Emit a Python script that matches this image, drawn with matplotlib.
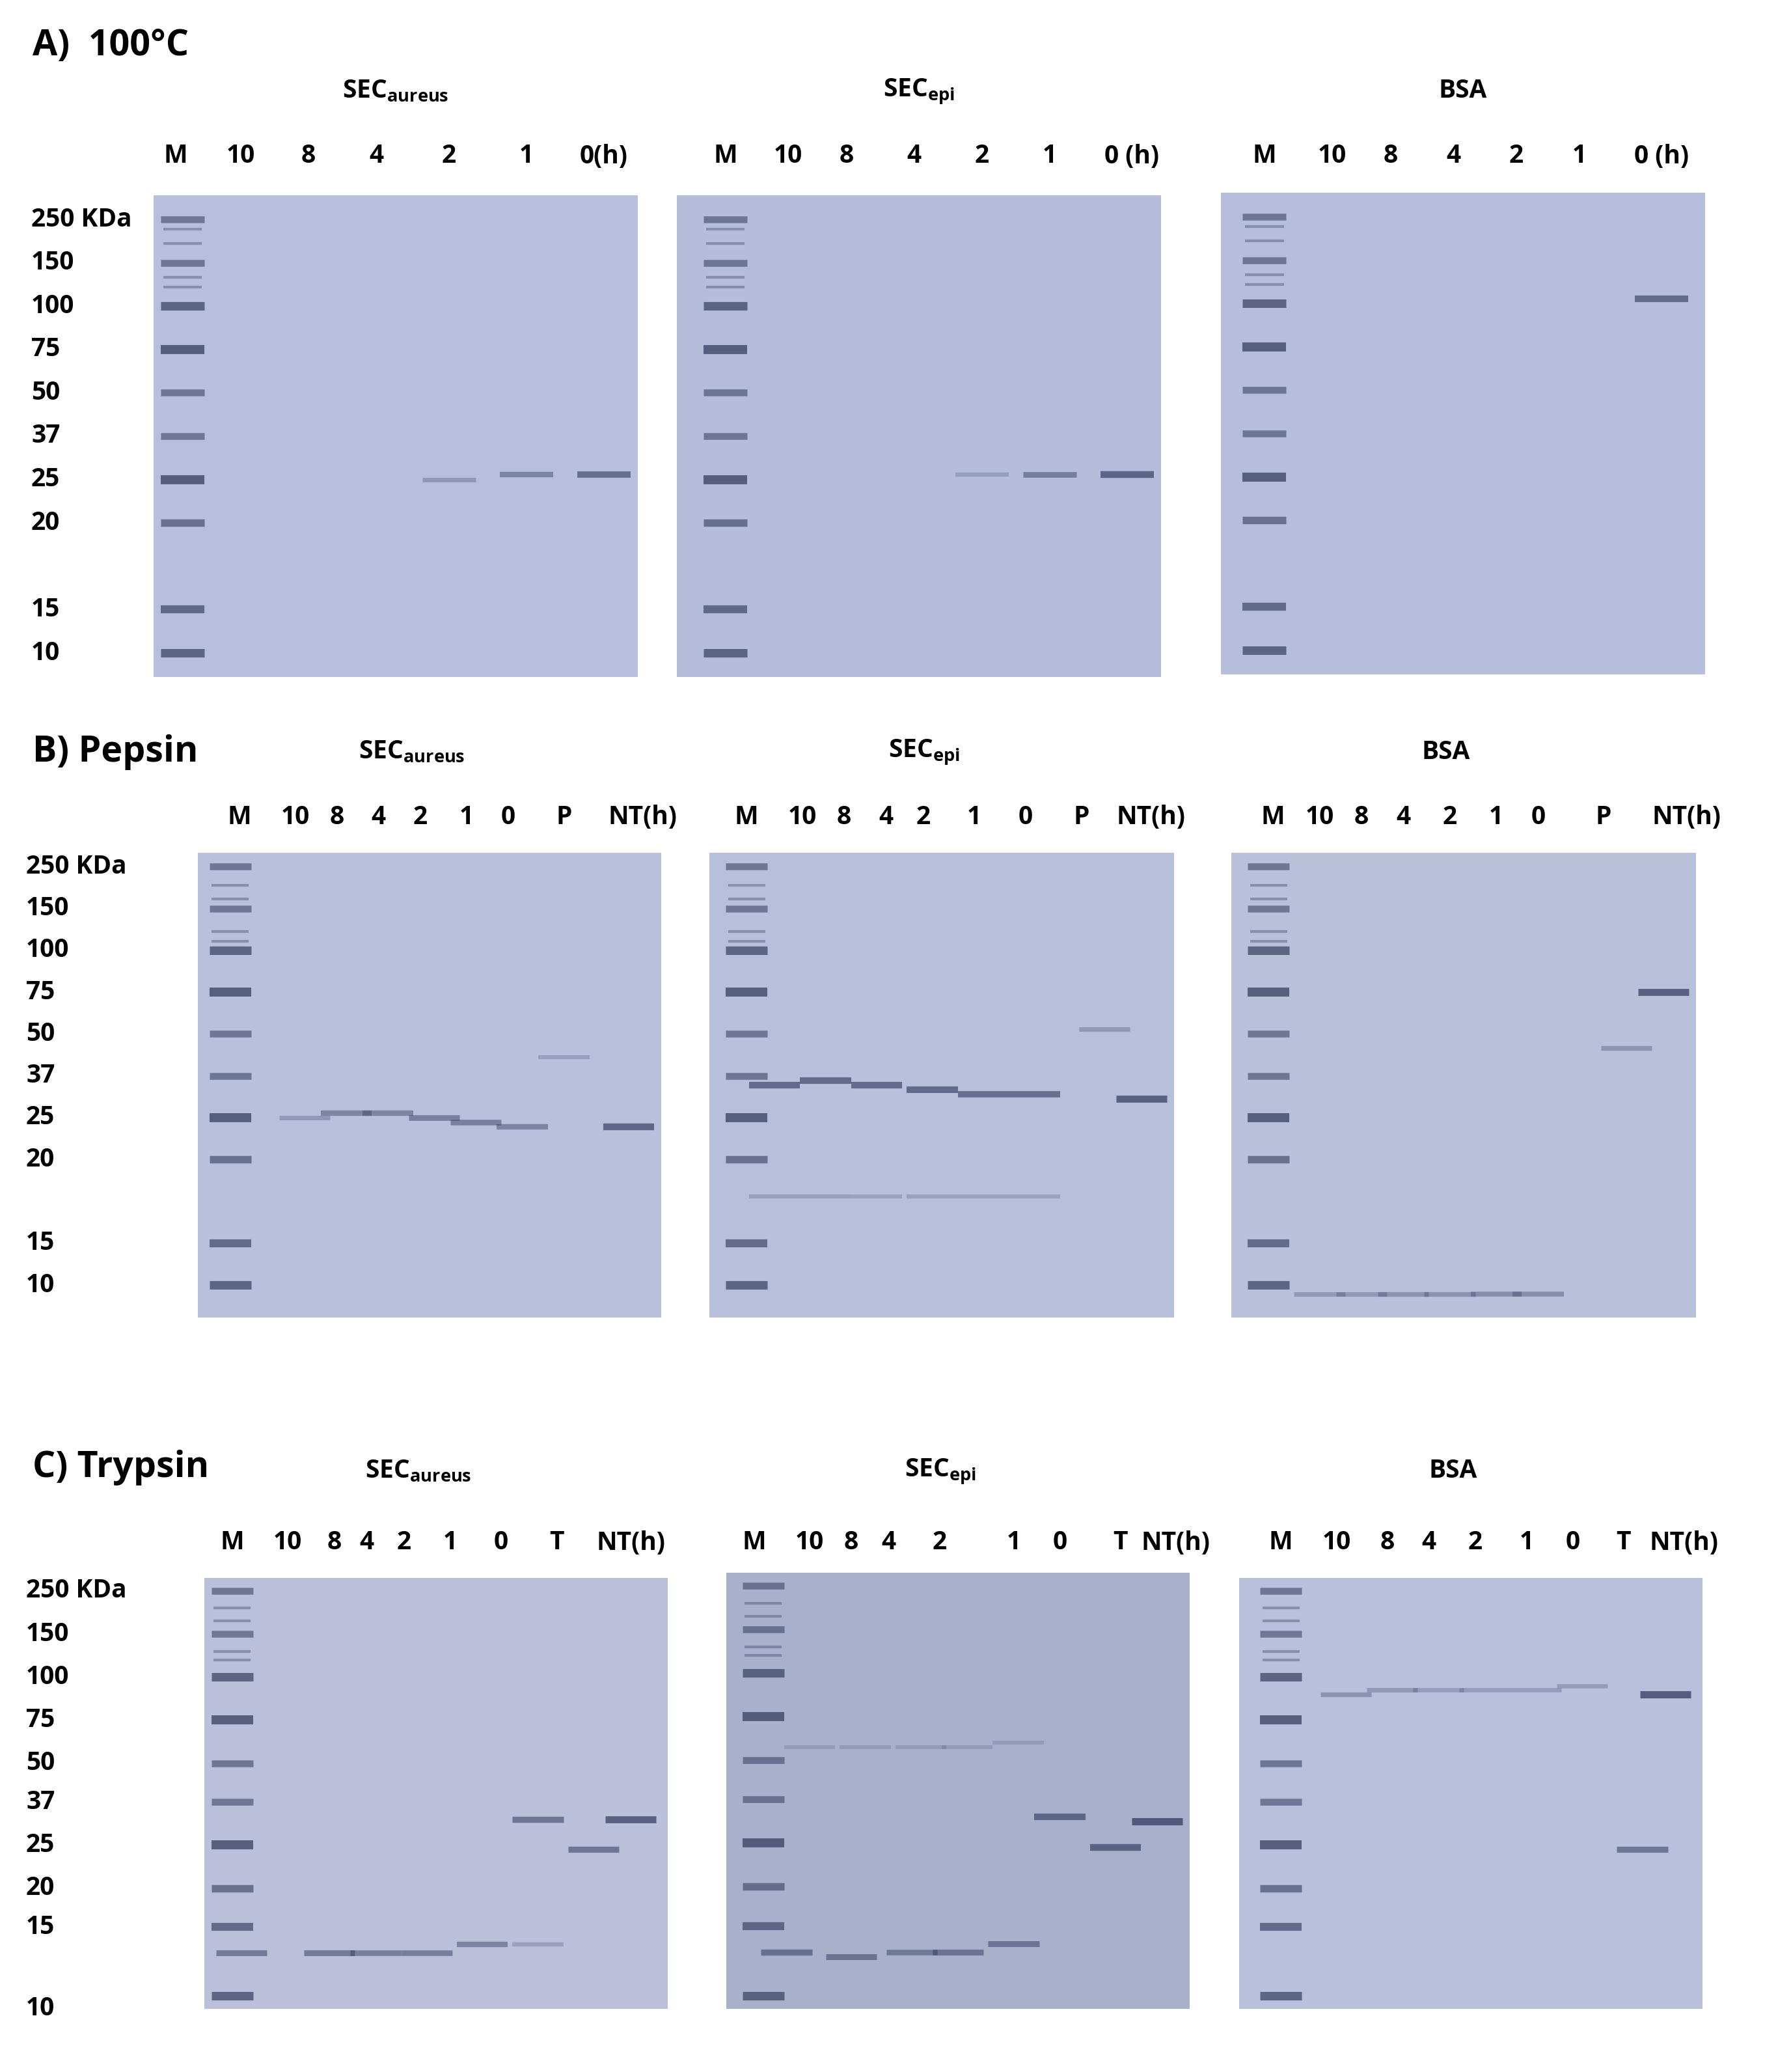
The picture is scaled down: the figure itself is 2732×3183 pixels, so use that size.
import matplotlib
matplotlib.use("Agg")
import matplotlib.pyplot as plt
import numpy as np

plt.rcParams['font.family'] = ['Open Sans', 'DejaVu Sans']

W, H = 2732, 3183
mw_labels = ["250 KDa", "150", "100", "75", "50", "37", "25", "20", "15", "10"]
# vertical position of each marker label, as a fraction of the gel height, per row
mw_frac = {
    "A": [0.05, 0.14, 0.23, 0.32, 0.41, 0.50, 0.59, 0.68, 0.86, 0.95],
    "B": [0.03, 0.12, 0.21, 0.30, 0.39, 0.48, 0.57, 0.66, 0.84, 0.93],
    "C": [0.03, 0.13, 0.23, 0.33, 0.43, 0.52, 0.62, 0.72, 0.81, 1.00],
}
# thick ladder bands (75 and 25 kDa) get more ink
ladder_weight = [0.6, 0.6, 0.9, 1.0, 0.6, 0.6, 1.0, 0.7, 0.8, 0.9]

row_titles = {"A": "A)  100°C", "B": "B) Pepsin", "C": "C) Trypsin"}
gel_titles = ["SEC$_{\\mathregular{aureus}}$", "SEC$_{\\mathregular{epi}}$", "BSA"]

lanes_A = ["M", "10", "8", "4", "2", "1", "0(h)"]
lanes_A2 = ["M", "10", "8", "4", "2", "1", "0 (h)"]
lanes_B = ["M", "10", "8", "4", "2", "1", "0", "P", "NT(h)"]
lanes_C = ["M", "10", "8", "4", "2", "1", "0", "T", "NT(h)"]

# gel rectangles in pixels: left, top, right, bottom
gels = {
    "A": [(236, 300, 980, 1040), (1040, 300, 1784, 1040), (1876, 296, 2620, 1036)],
    "B": [(304, 1310, 1016, 2024), (1090, 1310, 1804, 2024), (1892, 1310, 2606, 2024)],
    "C": [(314, 2424, 1026, 3086), (1116, 2416, 1828, 3086), (1904, 2424, 2616, 3086)],
}
lane_labels = {
    "A": [lanes_A, lanes_A2, lanes_A2],
    "B": [lanes_B, lanes_B, lanes_B],
    "C": [lanes_C, lanes_C, lanes_C],
}
lane_x = {
    "A": [[.046, .18, .32, .46, .61, .77, .93], [.10, .23, .35, .49, .63, .77, .94],
          [.09, .23, .35, .48, .61, .74, .91]],
    "B": [[.09, .21, .30, .39, .48, .58, .67, .79, .96], [.08, .20, .29, .38, .46, .57, .68, .80, .95],
          [.09, .19, .28, .37, .47, .57, .66, .80, .98]],
    "C": [[.06, .18, .28, .35, .43, .53, .64, .76, .92], [.06, .18, .27, .35, .46, .62, .72, .85, .97],
          [.09, .21, .32, .41, .51, .62, .72, .83, .96]],
}
ladder_x = {"A": [.06, .10, .09], "B": [.07, .08, .08], "C": [.06, .08, .09]}
gel_colour = {"A": ["#b7bfdc", "#b5bddb", "#b6bedb"], "B": ["#b9c0dc", "#b8bfda", "#b9c0da"],
              "C": ["#babfda", "#a9b0cc", "#b9c0dc"]}

# sample bands: (x frac, y frac, strength 0..1)
bands = {
    ("A", 0): [(.61, .59, .2), (.77, .58, .4), (.93, .58, .6)],
    ("A", 1): [(.63, .58, .12), (.77, .58, .45), (.93, .58, .7)],
    ("A", 2): [(.91, .22, .65)],
    ("B", 0): [(.23, .57, .2), (.32, .56, .4), (.41, .56, .4), (.51, .57, .45), (.60, .58, .45),
               (.70, .59, .4), (.79, .44, .12), (.93, .59, .7)],
    ("B", 1): [(.14, .50, .65), (.25, .49, .65), (.36, .50, .65), (.48, .51, .65), (.59, .52, .6),
               (.70, .52, .6), (.85, .38, .2), (.93, .53, .75),
               (.14, .74, .12), (.25, .74, .12), (.36, .74, .1), (.48, .74, .1), (.59, .74, .1), (.70, .74, .1)],
    ("B", 2): [(.93, .30, .75), (.85, .42, .25),
               (.19, .95, .2), (.28, .95, .2), (.37, .95, .25), (.47, .95, .25), (.57, .95, .3), (.66, .95, .3)],
    ("C", 0): [(.08, .87, .5), (.27, .87, .5), (.37, .87, .45), (.48, .87, .45), (.60, .85, .4),
               (.72, .85, .12), (.72, .56, .55), (.84, .63, .55), (.92, .56, .75)],
    ("C", 1): [(.13, .87, .55), (.27, .88, .5), (.40, .87, .45), (.50, .87, .5), (.62, .85, .5),
               (.72, .56, .65), (.84, .63, .7), (.93, .57, .8),
               (.18, .40, .05), (.30, .40, .05), (.42, .40, .05), (.52, .40, .05), (.63, .39, .05)],
    ("C", 2): [(.23, .27, .25), (.33, .26, .2), (.43, .26, .15), (.53, .26, .15), (.64, .26, .15), (.74, .25, .15),
               (.92, .27, .8), (.87, .63, .55)],
}

fig = plt.figure(figsize=(W / 100, H / 100), dpi=100)
fig.patch.set_facecolor("white")

row_title_y = {"A": 70, "B": 1155, "C": 2255}
gel_title_y = {"A": 140, "B": 1155, "C": 2260}
lane_label_y = {"A": 240, "B": 1255, "C": 2370}
label_x = {"A": 48, "B": 40, "C": 40}

for row in ["A", "B", "C"]:
    fig.text(50 / W, 1 - row_title_y[row] / H, row_titles[row], fontsize=40, fontweight="bold",
             va="center", ha="left")
    for g, (l, t, r, b) in enumerate(gels[row]):
        ax = fig.add_axes([l / W, 1 - b / H, (r - l) / W, (b - t) / H])
        ax.set_xlim(0, 1)
        ax.set_ylim(1, 0)
        ax.set_facecolor(gel_colour[row][g])
        for s in ax.spines.values():
            s.set_visible(False)
        ax.set_xticks([])
        ax.set_yticks([])
        # ladder
        lx = ladder_x[row][g]
        for yf, wt in zip(mw_frac[row], ladder_weight):
            yy = min(yf, 0.97)
            ax.hlines(yy, lx - 0.045, lx + 0.045, color="#3f4768", lw=4 + 6 * wt, alpha=0.3 + 0.5 * wt)
        for yf in [0.07, 0.10, 0.17, 0.19]:
            ax.hlines(yf, lx - 0.04, lx + 0.04, color="#3f4768", lw=3, alpha=0.4)
        # samples
        for bx, by, st in bands[(row, g)]:
            ax.hlines(by, bx - 0.055, bx + 0.055, color="#3a4266", lw=4 + 5 * st, alpha=0.15 + 0.8 * st)
        fig.text((l + r) / 2 / W + (0.0 if row == "A" else -0.01), 1 - gel_title_y[row] / H,
                 gel_titles[g], fontsize=28, fontweight="bold", ha="center", va="center")
        for lab, xf in zip(lane_labels[row][g], lane_x[row][g]):
            fig.text((l + xf * (r - l)) / W, 1 - lane_label_y[row] / H, lab, fontsize=28,
                     fontweight="bold", ha="center", va="center")
        if g == 0:
            for lab, yf in zip(mw_labels, mw_frac[row]):
                fig.text(label_x[row] / W, 1 - (t + yf * (b - t)) / H, lab, fontsize=28,
                         fontweight="bold", ha="left", va="center")

fig.savefig("out.png", dpi=100)
